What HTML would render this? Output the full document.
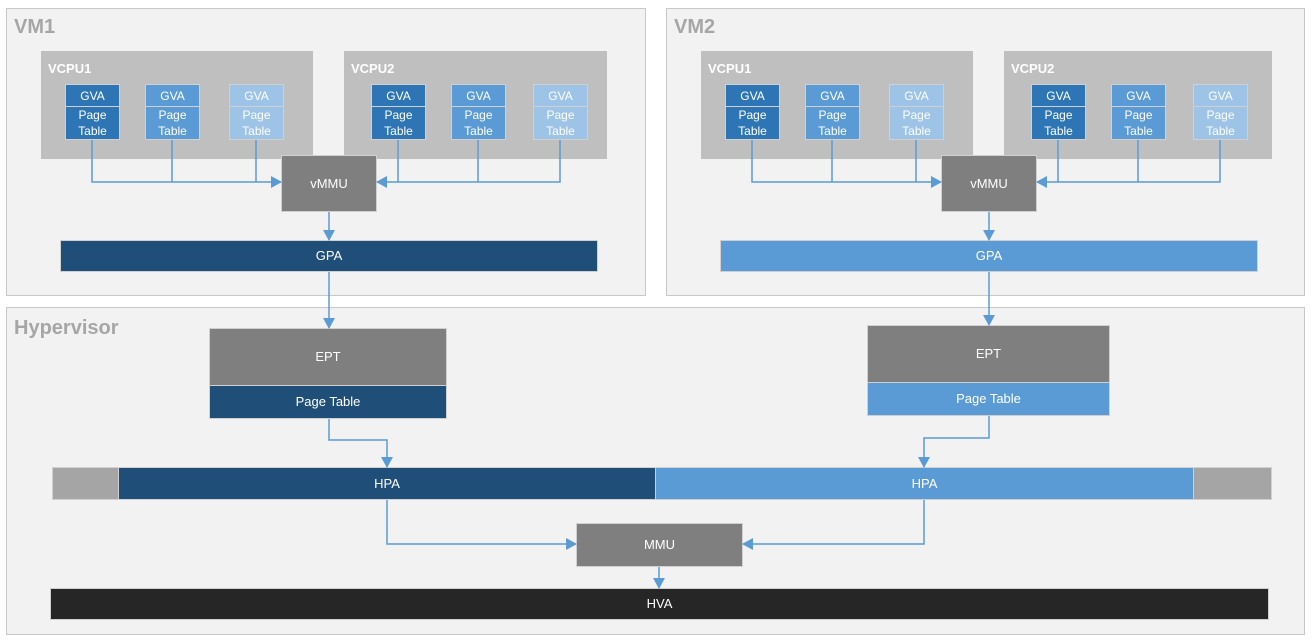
<!DOCTYPE html>
<html><head><meta charset="utf-8"><style>
body{margin:0;width:1314px;height:642px;background:#fff;position:relative;overflow:hidden;font-family:"Liberation Sans",sans-serif}
div{position:absolute;box-sizing:border-box}
.frame{background:#f2f2f2;border:1px solid #c8c8c8}
.title{font-weight:bold;font-size:20px;color:#a6a6a6}
.vcpu{background:#bfbfbf}
.vl{font-weight:bold;font-size:13px;color:#fff}
.c{color:#fff;font-size:12px;display:flex;align-items:center;justify-content:center;text-align:center;line-height:16px;border:1px solid #d0d0d0}
.d{background:#2e75b6}.m{background:#5b9bd5}.l{background:#9dc3e6}
.g{background:#7f7f7f}
</style></head><body>
<div class="frame" style="left:6px;top:8px;width:640px;height:288px"></div>
<div class="frame" style="left:666px;top:8px;width:639px;height:288px"></div>
<div class="frame" style="left:6px;top:307px;width:1299px;height:328px"></div>
<div class="title" style="left:14px;top:16px">VM1</div>
<div class="title" style="left:674px;top:16px">VM2</div>
<div class="title" style="left:14px;top:317px">Hypervisor</div>

<div class="vcpu" style="left:41px;top:51px;width:272px;height:108px"></div>
<div class="vcpu" style="left:344px;top:51px;width:263px;height:108px"></div>
<div class="vcpu" style="left:701px;top:51px;width:272px;height:108px"></div>
<div class="vcpu" style="left:1004px;top:51px;width:268px;height:108px"></div>
<div class="vl" style="left:48px;top:61px">VCPU1</div>
<div class="vl" style="left:351px;top:61px">VCPU2</div>
<div class="vl" style="left:708px;top:61px">VCPU1</div>
<div class="vl" style="left:1011px;top:61px">VCPU2</div>

<div class="c d" style="left:65px;top:84px;width:55px;height:23px">GVA</div><div class="c d" style="left:65px;top:106px;width:55px;height:34px">Page<br>Table</div>
<div class="c m" style="left:145px;top:84px;width:55px;height:23px">GVA</div><div class="c m" style="left:145px;top:106px;width:55px;height:34px">Page<br>Table</div>
<div class="c l" style="left:229px;top:84px;width:55px;height:23px">GVA</div><div class="c l" style="left:229px;top:106px;width:55px;height:34px">Page<br>Table</div>
<div class="c d" style="left:371px;top:84px;width:55px;height:23px">GVA</div><div class="c d" style="left:371px;top:106px;width:55px;height:34px">Page<br>Table</div>
<div class="c m" style="left:451px;top:84px;width:55px;height:23px">GVA</div><div class="c m" style="left:451px;top:106px;width:55px;height:34px">Page<br>Table</div>
<div class="c l" style="left:533px;top:84px;width:55px;height:23px">GVA</div><div class="c l" style="left:533px;top:106px;width:55px;height:34px">Page<br>Table</div>
<div class="c d" style="left:725px;top:84px;width:55px;height:23px">GVA</div><div class="c d" style="left:725px;top:106px;width:55px;height:34px">Page<br>Table</div>
<div class="c m" style="left:805px;top:84px;width:55px;height:23px">GVA</div><div class="c m" style="left:805px;top:106px;width:55px;height:34px">Page<br>Table</div>
<div class="c l" style="left:889px;top:84px;width:55px;height:23px">GVA</div><div class="c l" style="left:889px;top:106px;width:55px;height:34px">Page<br>Table</div>
<div class="c d" style="left:1031px;top:84px;width:55px;height:23px">GVA</div><div class="c d" style="left:1031px;top:106px;width:55px;height:34px">Page<br>Table</div>
<div class="c m" style="left:1111px;top:84px;width:55px;height:23px">GVA</div><div class="c m" style="left:1111px;top:106px;width:55px;height:34px">Page<br>Table</div>
<div class="c l" style="left:1193px;top:84px;width:55px;height:23px">GVA</div><div class="c l" style="left:1193px;top:106px;width:55px;height:34px">Page<br>Table</div>

<div class="c g" style="left:281px;top:155px;width:96px;height:57px;font-size:13px">vMMU</div>
<div class="c g" style="left:941px;top:155px;width:96px;height:57px;font-size:13px">vMMU</div>
<div class="c" style="left:60px;top:240px;width:538px;height:32px;background:#1f4e79;font-size:13px">GPA</div>
<div class="c m" style="left:720px;top:240px;width:538px;height:32px;font-size:13px">GPA</div>

<div class="c g" style="left:209px;top:328px;width:238px;height:58px;font-size:13px">EPT</div>
<div class="c" style="left:209px;top:385px;width:238px;height:34px;background:#1f4e79;font-size:13px">Page Table</div>
<div class="c g" style="left:867px;top:325px;width:243px;height:58px;font-size:13px">EPT</div>
<div class="c m" style="left:867px;top:382px;width:243px;height:34px;font-size:13px">Page Table</div>

<div class="c" style="left:52px;top:467px;width:67px;height:33px;background:#a5a5a5"></div>
<div class="c" style="left:118px;top:467px;width:538px;height:33px;background:#1f4e79;font-size:13px">HPA</div>
<div class="c m" style="left:655px;top:467px;width:539px;height:33px;font-size:13px">HPA</div>
<div class="c" style="left:1193px;top:467px;width:79px;height:33px;background:#a5a5a5"></div>

<div class="c g" style="left:576px;top:523px;width:167px;height:44px;font-size:13px">MMU</div>
<div class="c" style="left:50px;top:588px;width:1219px;height:32px;background:#262626;font-size:13px">HVA</div>

<svg width="1314" height="642" style="position:absolute;left:0;top:0">
<defs><marker id="a" markerWidth="11" markerHeight="12" refX="10" refY="6" orient="auto" markerUnits="userSpaceOnUse"><path d="M0,0L11,6L0,12z" fill="#5b9bd5"/></marker></defs>
<g stroke="#5b9bd5" stroke-width="1.5" fill="none">
<polyline points="92,140 92,182 281,182" marker-end="url(#a)"/>
<line x1="172" y1="140" x2="172" y2="182"/><line x1="256" y1="140" x2="256" y2="182"/>
<polyline points="560,140 560,182 377,182" marker-end="url(#a)"/>
<line x1="398" y1="140" x2="398" y2="182"/><line x1="478" y1="140" x2="478" y2="182"/>
<polyline points="752,140 752,182 941,182" marker-end="url(#a)"/>
<line x1="832" y1="140" x2="832" y2="182"/><line x1="916" y1="140" x2="916" y2="182"/>
<polyline points="1220,140 1220,182 1037,182" marker-end="url(#a)"/>
<line x1="1058" y1="140" x2="1058" y2="182"/><line x1="1138" y1="140" x2="1138" y2="182"/>
<line x1="329" y1="212" x2="329" y2="240" marker-end="url(#a)"/>
<line x1="989" y1="212" x2="989" y2="240" marker-end="url(#a)"/>
<line x1="329" y1="272" x2="329" y2="328" marker-end="url(#a)"/>
<line x1="989" y1="272" x2="989" y2="325" marker-end="url(#a)"/>
<polyline points="329,419 329,440 387,440 387,467" marker-end="url(#a)"/>
<polyline points="989,416 989,438 924,438 924,467" marker-end="url(#a)"/>
<polyline points="387,500 387,544 576,544" marker-end="url(#a)"/>
<polyline points="924,500 924,544 743,544" marker-end="url(#a)"/>
<line x1="659" y1="567" x2="659" y2="588" marker-end="url(#a)"/>
</g></svg>
</body></html>
